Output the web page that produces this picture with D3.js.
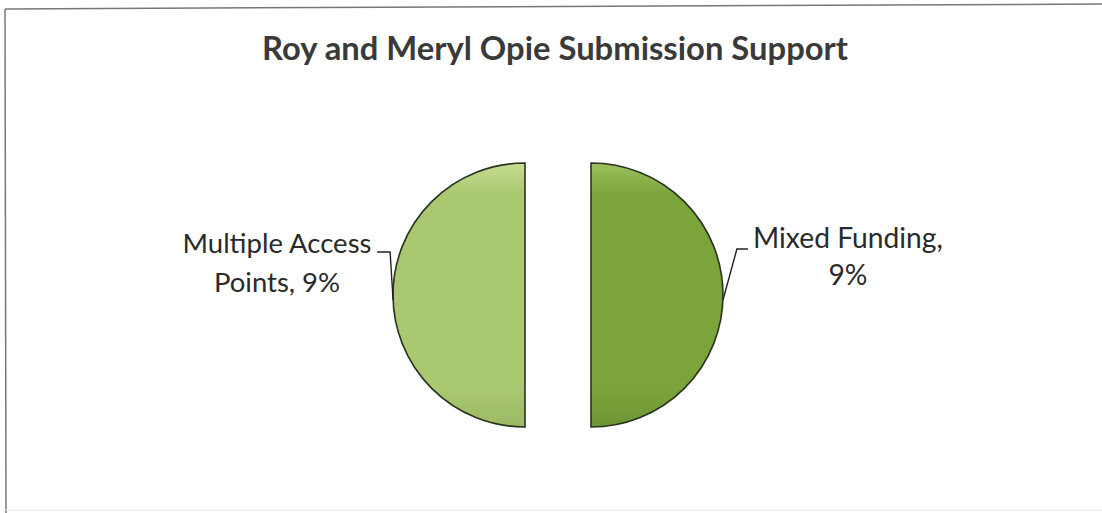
<!DOCTYPE html>
<html>
<head>
<meta charset="utf-8">
<script src="https://cdn.jsdelivr.net/npm/d3@7"></script>
<style>
  html, body { margin: 0; padding: 0; background: #fff; }
  svg { display: block; }
</style>
</head>
<body>
<svg id="chart" width="1102" height="513"></svg>
<script>
// ---- data ----
const title = "Roy and Meryl Opie Submission Support";
const categories = ["Mixed Funding", "Multiple Access Points"];
const values = [9, 9];
const valueLabels = ["9%", "9%"];
const labelLines = [["Mixed Funding,", "9%"], ["Multiple Access", "Points, 9%"]];

const W = 1102, H = 513;
const svg = d3.select("#chart");
const defs = svg.append("defs");

// frame
svg.append("line").attr("x1", 5).attr("y1", 9).attr("x2", 1102).attr("y2", 4)
  .attr("stroke", "#777").attr("stroke-width", 1.5);
svg.append("line").attr("x1", 5).attr("y1", 9).attr("x2", 6).attr("y2", 513)
  .attr("stroke", "#777").attr("stroke-width", 1.5);
svg.append("line").attr("x1", 5).attr("y1", 510).attr("x2", 1102).attr("y2", 510)
  .attr("stroke", "#e6e6e6").attr("stroke-width", 1);

const font = "Lato, 'Open Sans', 'DejaVu Sans', sans-serif";

function fitText(sel, targetWidth) {
  const node = sel.node();
  const fs = parseFloat(sel.attr("font-size"));
  const w = node.getComputedTextLength();
  sel.attr("font-size", (fs * targetWidth / w).toFixed(2));
}

// title
const t = svg.append("text")
  .attr("x", 555).attr("y", 60)
  .attr("text-anchor", "middle")
  .attr("font-family", font).attr("font-weight", "bold")
  .attr("font-size", 30).attr("fill", "#3a3a3a")
  .text(title);
fitText(t, 586);

// pie
const cx = 558, cy = 295, r = 132, explode = 33;
const gradStops = {
  "Mixed Funding": ["#9cc05e", "#7ba43b", "#6e9534"],
  "Multiple Access Points": ["#c6dc92", "#aac86f", "#9cb964"]
};
categories.forEach((c, i) => {
  const g = defs.append("linearGradient").attr("id", "grad" + i)
    .attr("x1", 0).attr("y1", 0).attr("x2", 0).attr("y2", 1);
  const s = gradStops[c];
  g.append("stop").attr("offset", "0%").attr("stop-color", s[0]);
  g.append("stop").attr("offset", "12%").attr("stop-color", s[1]);
  g.append("stop").attr("offset", "85%").attr("stop-color", s[1]);
  g.append("stop").attr("offset", "100%").attr("stop-color", s[2]);
});

const pie = d3.pie().sort(null).value(d => d.value);
const arcs = pie(categories.map((c, i) => ({ name: c, value: values[i], idx: i })));
const arc = d3.arc().innerRadius(0).outerRadius(r);

const gPie = svg.append("g").attr("transform", `translate(${cx},${cy})`);
gPie.selectAll("path").data(arcs).join("path")
  .attr("transform", d => {
    const a = (d.startAngle + d.endAngle) / 2;
    return `translate(${explode * Math.sin(a)},${-explode * Math.cos(a)})`;
  })
  .attr("d", arc)
  .attr("fill", d => `url(#grad${d.data.idx})`)
  .attr("stroke", "#2a3320").attr("stroke-width", 1.6);

// labels + leader lines
arcs.forEach(d => {
  const a = (d.startAngle + d.endAngle) / 2;
  const side = Math.sin(a) > 0 ? 1 : -1;
  const ox = cx + explode * Math.sin(a);
  const edgeA = side > 0 ? Math.PI / 2 + 0.04 : 3 * Math.PI / 2 - 0.04;
  const p0 = [ox + r * Math.sin(edgeA), cy - r * Math.cos(edgeA)];
  const p1 = side > 0 ? [p0[0] + 14, cy - 46] : [p0[0] - 3, cy - 43];
  const p2 = side > 0 ? [p1[0] + 11, p1[1]] : [p1[0] - 13, p1[1]];
  svg.append("path")
    .attr("d", d3.line()([p0, p1, p2]))
    .attr("fill", "none").attr("stroke", "#222").attr("stroke-width", 1.4);

  const lines = labelLines[d.data.idx];
  const lx = side > 0 ? 848 : 277;
  const ly = side > 0 ? 248 : 253;
  const gap = side > 0 ? 37 : 39;
  const txt = svg.append("text")
    .attr("text-anchor", "middle")
    .attr("font-family", font).attr("font-size", 26).attr("fill", "#2a2a2a");
  lines.forEach((ln, k) => {
    txt.append("tspan").attr("x", lx).attr("y", ly + k * gap).text(ln);
  });
  const first = txt.select("tspan").node();
  const target = side > 0 ? 190 : 189;
  const w = first.getComputedTextLength();
  txt.attr("font-size", (26 * target / w).toFixed(2));
});
</script>
</body>
</html>
